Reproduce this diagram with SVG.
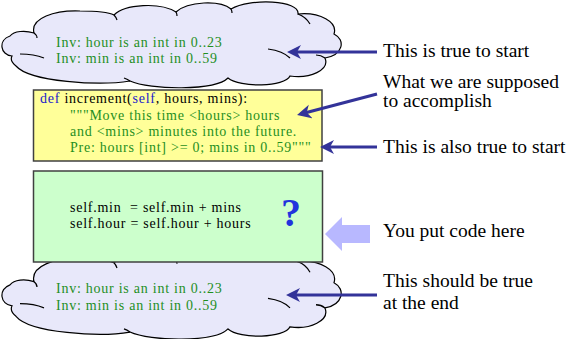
<svg xmlns="http://www.w3.org/2000/svg" width="570" height="339" viewBox="0 0 570 339">
<style>
.cloud{fill:#e8e8fa;stroke:#000;stroke-width:1.2}
.inner{fill:none;stroke:#000;stroke-width:1.2}
.code{font-family:"Liberation Serif","Times New Roman",serif;font-size:14px;letter-spacing:0.75px}
.grn{fill:#1f8f1f}
.blk{fill:#000}
.kw{fill:#1a1acc}
.lbl{font-family:"Liberation Serif","Times New Roman",serif;font-size:19.5px;fill:#000}
.arr{stroke:#333399;stroke-width:3;fill:none;marker-end:url(#ah)}
</style>
<defs>
<marker id="ah" markerUnits="userSpaceOnUse" markerWidth="16" markerHeight="16" viewBox="0 -8 16 16" refX="10" refY="0" orient="auto">
<path d="M0,-7 L14,0 L0,7 L4,0 z" fill="#333399"/>
</marker>
<g id="cloudShape">
<path class="cloud" d="M12,56 C0,55 -2,40 10,36 C14,31 25,30 34,33 C30,18 55,10 80,11 C95,11 108,12 114,15 C125,4 160,2 176,12 C188,1 220,0 231,9 C250,-2 300,0 298,14 C320,12 338,22 334,34 C346,40 343,55 325,58 C330,70 310,79 290,76 C285,87 240,88 228,78 C215,91 150,90 130,81 C100,86 30,82 16,66 C12,63 10,60 12,56 Z"/>
<path class="inner" d="M34,33 q3,2 3,5 M114,15 q2,2 3,5 M176,12 q1,2 1,4 M231,9 q1,2 1,4 M298,14 q8,3 12,10 M325,58 q-4,-3 -9,-3 M268,49 q15,2 22,9 M20,54 q14,0 24,4 M130,81 q-3,-2 -6,-3"/>
</g>
</defs>

<g id="cloud-top">
<use href="#cloudShape"/>
<text class="code grn" x="56" y="47">Inv: hour is an int in 0..23</text>
<text class="code grn" x="56" y="63">Inv: min is an int in 0..59</text>
</g>

<g id="cloud-bottom">
<use href="#cloudShape" transform="translate(0,247) scale(1,1.05)"/>
<text class="code grn" x="56" y="293">Inv: hour is an int in 0..23</text>
<text class="code grn" x="56" y="310">Inv: min is an int in 0..59</text>
</g>

<g id="header-box">
<rect x="33.5" y="90" width="288.5" height="71" fill="#ffff99" stroke="#404040" stroke-width="1.5"/>
<text class="code blk" x="40" y="103"><tspan class="kw">def</tspan> increment(<tspan class="kw">self</tspan>, hours, mins):</text>
<text class="code grn" x="70" y="120">"""Move this time &lt;hours&gt; hours</text>
<text class="code grn" x="70" y="136">and &lt;mins&gt; minutes into the future.</text>
<text class="code grn" x="70" y="152">Pre: hours [int] &gt;= 0; mins in 0..59"""</text>
</g>

<g id="body-box">
<rect x="33.5" y="171" width="289" height="91" fill="#ccffcc" stroke="#404040" stroke-width="1.5"/>
<text class="code blk" x="70" y="212" xml:space="preserve">self.min  = self.min + mins</text>
<text class="code blk" x="70" y="228">self.hour = self.hour + hours</text>
<text x="291" y="226" text-anchor="middle" font-family="Liberation Serif, serif" font-weight="bold" font-size="40" fill="#2233dd">?</text>
</g>

<g id="label-start"><text class="lbl" x="383" y="57">This is true to start</text></g>
<g id="label-accomplish"><text class="lbl" x="383" y="88">What we are supposed</text><text class="lbl" x="383" y="107">to accomplish</text></g>
<g id="label-also"><text class="lbl" x="383" y="153">This is also true to start</text></g>
<g id="label-code"><text class="lbl" x="383" y="237">You put code here</text></g>
<g id="label-end"><text class="lbl" x="383" y="287">This should be true</text><text class="lbl" x="383" y="309">at the end</text></g>

<g id="connectors">
<line class="arr" x1="377" y1="52" x2="291" y2="52"/>
<line class="arr" x1="377" y1="94" x2="300.9" y2="114"/>
<line class="arr" x1="377" y1="147" x2="324" y2="147"/>
<line class="arr" x1="377" y1="295" x2="290" y2="295"/>
<polygon points="325,234 342,217 342,225 370,225 370,243 342,243 342,251" fill="#b8b8ff"/>
</g>
</svg>
